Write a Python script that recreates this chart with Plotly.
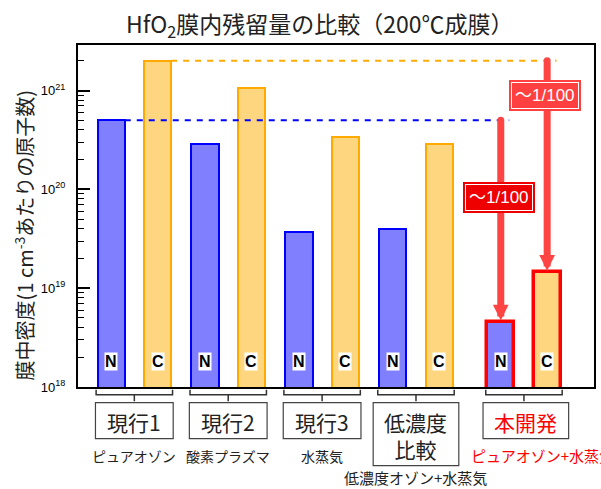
import numpy as np
import plotly.graph_objects as go

# ---------------- data ----------------
groups = ["現行1", "現行2", "現行3", "低濃度<br>比較", "本開発"]
methods = ["ピュアオゾン", "酸素プラズマ", "水蒸気", "低濃度オゾン+水蒸気", "ピュアオゾン+水蒸気"]
n_values = [5.0e20, 2.9e20, 3.7e19, 4.0e19, 4.6e18]     # N (atoms / cm^3)
c_values = [2.0e21, 1.07e21, 3.4e20, 2.9e20, 1.47e19]  # C (atoms / cm^3)
ratio_label = "～1/100"
y_tick_vals = [1e18, 1e19, 1e20, 1e21]
y_tick_text = ["10<sup>18</sup>", "10<sup>19</sup>", "10<sup>20</sup>", "10<sup>21</sup>"]

# ---------------- layout helpers ----------------
gpos = np.array([0.0, 1.0, 2.0, 3.0, 4.15])
off = 0.247
bw = 0.29
xn = gpos - off
xc = gpos + off

def ypix(p):  # pixel row -> paper coordinate
    return (387.3 - p) / 342.3

def xpix(p):  # pixel column -> x data
    return (p - 133.8) / 94.3

N_FILL, N_LINE = "rgb(128,128,255)", "#0000ff"
C_FILL, C_LINE = "rgb(255,214,128)", "#ffaa00"
RED = "#ff0000"
ARROW = "#ff4444"
CJK = "Noto Sans CJK JP"

fig = go.Figure()

fig.add_trace(go.Bar(
    x=xn, y=n_values, width=bw,
    marker=dict(color=N_FILL,
                line=dict(color=[N_LINE] * 4 + [RED], width=[2] * 4 + [3.5])),
    hoverinfo="skip", showlegend=False))
fig.add_trace(go.Bar(
    x=xc, y=c_values, width=bw,
    marker=dict(color=C_FILL,
                line=dict(color=[C_LINE] * 4 + [RED], width=[2] * 4 + [3.5])),
    hoverinfo="skip", showlegend=False))

# dashed reference lines
fig.add_trace(go.Scatter(
    x=[xc[0] + bw / 2, xc[4] + 0.1], y=[c_values[0], c_values[0]],
    mode="lines", line=dict(color="#ffaa00", width=2, dash="6px,6px"),
    hoverinfo="skip", showlegend=False))
fig.add_trace(go.Scatter(
    x=[xn[0] + bw / 2, xn[4] + 0.09], y=[n_values[0], n_values[0]],
    mode="lines", line=dict(color="#0000ff", width=2, dash="6px,6px"),
    hoverinfo="skip", showlegend=False))

# rounded tops of arrows
fig.add_trace(go.Scatter(
    x=[xn[4], xc[4]], y=[n_values[0], c_values[0]], mode="markers",
    marker=dict(color=ARROW, size=7, line=dict(width=0)),
    hoverinfo="skip", showlegend=False))

annotations = []
shapes = []

def note(**kw):
    kw.setdefault("showarrow", False)
    kw.setdefault("xanchor", "center")
    kw.setdefault("yanchor", "middle")
    annotations.append(kw)

# arrows
for xa, top, bottom in [(xn[4], n_values[0], n_values[4]), (xc[4], c_values[0], c_values[4])]:
    annotations.append(dict(
        x=xa, y=np.log10(bottom), ax=xa, ay=np.log10(top),
        xref="x", yref="y", axref="x", ayref="y", text="",
        showarrow=True, arrowhead=2, arrowsize=0.45, arrowwidth=7,
        arrowcolor=ARROW, standoff=1, startstandoff=0))

# ratio labels (outer ring + inner box)
for xa, yp, fill in [(xn[4], ypix(198), "#ee0000"), (xc[4], ypix(96), "#ff4040")]:
    note(x=xa, y=yp, xref="x", yref="paper", text=ratio_label,
         font=dict(family="Liberation Sans, " + CJK, size=17, color=fill),
         bgcolor=fill, borderpad=6, borderwidth=0, xshift=-2)
    note(x=xa, y=yp, xref="x", yref="paper", text=ratio_label,
         font=dict(family="Liberation Sans, " + CJK, size=17, color="white"),
         bgcolor=fill, bordercolor="white", borderwidth=1, borderpad=3, xshift=-2)

# N / C letters on bars
for i in range(len(groups)):
    for xx, lab in [(xn[i], "N"), (xc[i], "C")]:
        note(x=xx, y=ypix(361.5), xref="x", yref="paper", text="<b>%s</b>" % lab,
             font=dict(family="Liberation Sans", size=16, color="black"),
             bgcolor="white", borderpad=0)

# brackets, boxes and group labels
for i, g in enumerate(groups):
    x0 = xn[i] - bw / 2 - 0.015
    x1 = xc[i] + bw / 2 + 0.015
    xm = gpos[i]
    yt, ym, yb = ypix(390), ypix(395), ypix(401.5)
    shapes.append(dict(
        type="path", xref="x", yref="paper",
        path="M %f,%f L %f,%f L %f,%f L %f,%f M %f,%f L %f,%f" % (
            x0, yt, x0, ym, x1, ym, x1, yt, xm, ym, xm, yb),
        line=dict(color="#333333", width=1.5)))
    half = 0.414 if i < 3 else 0.456
    bottom = 466 if i == 3 else 439
    xcen = xm + (0.02 if i == 4 else 0.0)
    shapes.append(dict(
        type="rect", xref="x", yref="paper",
        x0=xcen - half, x1=xcen + half, y0=ypix(403), y1=ypix(bottom),
        line=dict(color="#444444", width=1.2), fillcolor="white"))
    col = RED if i == 4 else "#222222"
    note(x=xcen, y=ypix((403 + bottom) / 2 + 1), xref="x", yref="paper", text=g,
         font=dict(family=CJK, size=21, color=col))

for i, m in enumerate(methods):
    if i == 3:
        note(x=gpos[i], y=ypix(478), xref="x", yref="paper", text=m,
             font=dict(family=CJK, size=15, color="#222222"))
    elif i == 4:
        note(x=xpix(470), y=ypix(456), xref="x", yref="paper", text=m, xanchor="left",
             font=dict(family=CJK, size=15, color=RED))
    else:
        note(x=gpos[i], y=ypix(456), xref="x", yref="paper", text=m,
             font=dict(family=CJK, size=14, color="#222222"))

# title
note(x=(321 - 77.7) / 518.3, y=ypix(24), xref="paper", yref="paper",
     text="HfO<sub>2</sub>膜内残留量の比較（200℃成膜）",
     font=dict(family=CJK, size=23, color="#222222"))
# y-axis title
note(x=(23 - 77.7) / 518.3, y=ypix(236), xref="paper", yref="paper",
     text="膜中密度(1 cm<sup>-3</sup>あたりの原子数)", textangle=-90,
     font=dict(family=CJK, size=20, color="#222222"))

fig.update_layout(
    width=601, height=489,
    margin=dict(l=78, r=5, t=45, b=102),
    paper_bgcolor="white", plot_bgcolor="white",
    barmode="overlay", bargap=0,
    annotations=annotations, shapes=shapes,
    xaxis=dict(range=[-0.60, 4.896], showticklabels=False, ticks="",
               showgrid=False, zeroline=False, showline=True, linecolor="black",
               linewidth=2, mirror=True, fixedrange=True),
    yaxis=dict(type="log", range=[18, 21.461], tickvals=y_tick_vals, ticktext=y_tick_text,
               ticks="inside", ticklen=12, tickwidth=1.5, tickcolor="black",
               minor=dict(ticks="inside", ticklen=6, tickwidth=1.2, tickcolor="black",
                          dtick="D1", showgrid=False),
               tickfont=dict(family="Liberation Sans", size=13, color="black"),
               ticklabelstandoff=8,
               showgrid=False, zeroline=False, showline=True, linecolor="black",
               linewidth=2, mirror=True, fixedrange=True),
)

fig.write_html("out.html")
